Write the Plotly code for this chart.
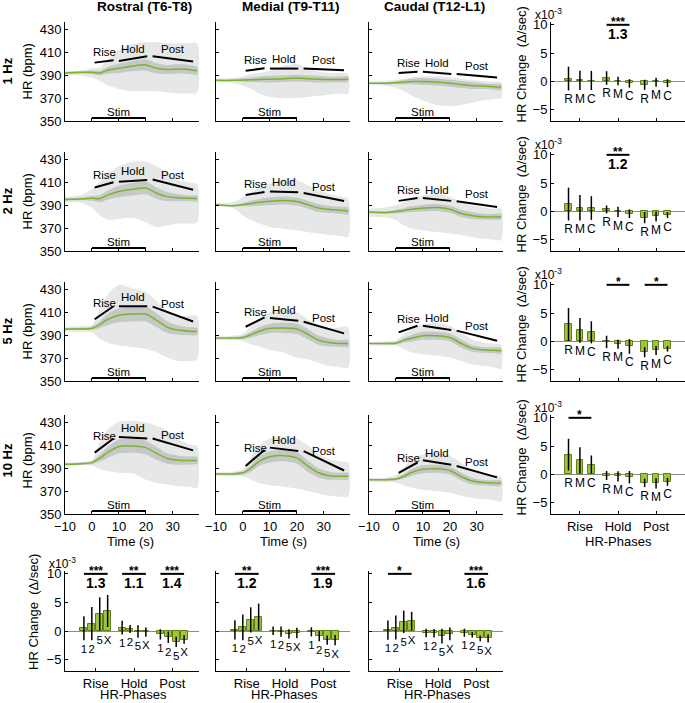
import plotly.graph_objects as go

W, H = 685, 703
FONT = "Liberation Sans, Arial, Helvetica, sans-serif"

regions = ["Rostral (T6-T8)", "Medial (T9-T11)", "Caudal (T12-L1)"]
freqs = ["1 Hz", "2 Hz", "5 Hz", "10 Hz"]
phases = ["Rise", "Hold", "Post"]
region_codes = ["R", "M", "C"]
freq_codes = ["1", "2", "5", "X"]

# time base of the HR traces (s)
t = [-10, -4, 0, 3, 6, 10, 15, 20, 24, 28, 32, 36, 39]
stim_window = (0, 20)
phase_windows = [(1, 8), (10, 20.5), (22.5, 37.5)]

# mean HR (bpm), per region: rostral, medial, caudal
hr_1hz = [[392, 392.5, 392.5, 392, 394.5, 396, 398, 399, 396, 395, 395.5, 395, 394],
          [385.5, 385.5, 385.8, 386, 386.3, 386.5, 387, 387.5, 387, 386.5, 386.3, 386.3, 386.5],
          [383, 383, 383.5, 384, 384.5, 384.5, 384, 383, 382, 381, 380.5, 380, 379.5]]
hr_2hz = [[395, 395.5, 396, 395.8, 399, 402, 404, 405, 400.5, 397.5, 396.5, 396, 395.8],
          [390.5, 389.5, 390.5, 391.5, 392.5, 393.5, 394.2, 393.2, 390.5, 387.5, 386.3, 385.7, 385],
          [384, 383.6, 384.5, 385.5, 386.5, 387.5, 388, 386.5, 383, 381, 380, 379.8, 380]]
hr_5hz = [[395.5, 395.5, 396, 399.5, 404, 407.5, 408.5, 408.5, 403, 397, 394.5, 393.5, 393.3],
          [387.5, 387.5, 388, 390.5, 393.5, 396, 396.3, 395.5, 391, 385.7, 383.7, 382.8, 382.8],
          [382.8, 382.8, 383, 385.7, 387.5, 389.5, 389.5, 388, 383, 378.7, 377.2, 376.9, 376.5]]
hr_10hz = [[393.4, 394, 394.9, 399, 404, 409, 409.5, 408, 403, 398.5, 397, 396.8, 396.8],
           [385, 385, 386, 390, 396, 400, 401, 399, 392, 386, 383.5, 383, 383],
           [380, 380, 380.5, 383, 386.5, 389, 389.5, 388, 383, 379, 377.5, 377, 377]]

# inner (dark grey) band half width
sem_1hz = [[0.8, 1, 1.5, 2, 3, 4, 4.5, 5, 4.5, 4, 4, 4, 3.5],
           [0.5, 0.8, 1.5, 2, 2.5, 3, 3, 3, 3, 3, 2.5, 2.5, 2.5],
           [0.5, 0.8, 1.3, 2, 2.5, 3, 3, 3, 3, 3, 2.5, 2.5, 2.5]]
sem_2hz = [[0.8, 1.2, 2, 3, 4, 5, 5.5, 5.5, 5, 4, 3, 2.5, 2.5],
           [0.5, 0.8, 1.5, 2.5, 3, 3.5, 3.5, 3.5, 3.5, 3.5, 3, 3, 3],
           [1, 1, 1.5, 2, 2.5, 3, 3, 3, 3, 3, 2.5, 2.5, 2.5]]
sem_5hz = [[0.8, 1, 1.5, 3, 5, 6, 6.5, 6.5, 6, 5, 4, 3.5, 3],
           [0.5, 0.8, 1.5, 2.5, 3.5, 4, 4.5, 4.5, 4.5, 4, 3.5, 3, 3],
           [0.5, 0.8, 1.2, 2, 3, 3.5, 3.5, 3.5, 3.5, 3, 2.5, 2.5, 2.5]]
sem_10hz = [[0.8, 1, 1.5, 3, 5, 6, 6, 6, 5.5, 4.5, 4, 3.5, 3],
            [0.5, 0.8, 1.5, 3, 4, 5, 5, 5, 5, 4, 3.5, 3, 3],
            [0.5, 0.8, 1.2, 2, 3, 3.5, 3.5, 3.5, 3.5, 3, 2.5, 2.5, 2.5]]

# outer (light grey) band, lower and upper edges
lo_1hz = [[390.5, 390, 388, 385, 381, 378, 376, 376, 376, 375, 374, 374, 375],
          [384, 383.5, 381, 378, 374, 371, 370, 370, 371, 372, 373, 374, 374],
          [381.5, 381, 379, 376, 372, 368, 364, 363, 364, 366, 368, 369, 370]]
hi_1hz = [[393.5, 394, 396, 397, 404, 412, 417, 419, 419, 418, 418, 418, 418],
          [387, 387.5, 389, 391, 392, 394, 398, 400, 396, 393, 392, 392, 391],
          [384.5, 385, 386, 387, 388, 389, 389, 388, 387, 386, 385, 384.5, 384]]
lo_2hz = [[393, 392, 388, 381, 377, 378, 379, 375, 371, 372, 374, 374, 375],
          [389, 388, 381, 377, 374, 371, 369.5, 368, 366.5, 365, 364, 363, 362.5],
          [380, 379.5, 377, 372, 369.5, 368, 366.7, 365.2, 364, 362.3, 361, 360, 359.5]]
hi_2hz = [[397, 399, 404, 411, 418, 424, 428, 428, 424, 418, 412, 410, 408],
          [392, 392.5, 397, 401, 405, 409, 413, 412, 407.5, 403, 400, 397.5, 396],
          [387, 388, 390, 393, 396, 398.7, 400, 397.3, 393.5, 390, 388.5, 387, 387]]
lo_5hz = [[393.5, 393, 392.5, 386.5, 383.5, 381, 379.5, 378, 375, 370.5, 367.5, 367.5, 369],
          [386, 385.5, 385, 382, 380, 377, 375, 370.5, 369, 366, 363, 362, 361.5],
          [381.5, 381, 381, 377.8, 375, 373.4, 372, 370.5, 367.6, 364.6, 363.2, 362.3, 360.5]]
hi_5hz = [[397.5, 398, 399, 414, 426, 434, 431, 427.5, 420, 411.5, 407, 407, 407],
          [389, 389.5, 391, 398, 404, 410, 413, 410, 404, 398.3, 395.5, 397, 397],
          [384, 384.5, 385.5, 391, 395.4, 399.8, 401, 398.3, 392.5, 386.6, 383.7, 382.8, 381.6]]
lo_10hz = [[392, 392.5, 392.5, 389, 387.5, 386, 385.5, 380, 377.3, 375.8, 374.3, 373.8, 373],
           [383.5, 383, 383, 380, 377, 375, 374, 372, 370, 368, 366, 365, 365],
           [378.5, 378, 377.5, 375, 373, 371, 370, 368.5, 366, 364, 363, 362, 361]]
hi_10hz = [[395, 395.5, 396.5, 414, 424, 430.5, 431.5, 430, 427, 422.7, 415.4, 411, 409.5],
           [386.5, 387, 389, 400, 410, 416, 418, 416, 410, 402, 398, 396, 395],
           [381.5, 382, 384, 391, 398, 402, 403, 401, 395, 389, 385, 384, 383]]

# fitted phase lines (start, end HR) for rise, hold, post
seg_1hz = [[(401, 403), (402.5, 406.5), (406.5, 402)],
           [(394, 396), (395.8, 395.8), (395.8, 394.3)],
           [(392, 393), (393, 391), (391, 388)]]
seg_2hz = [[(405.5, 410), (410.5, 412), (412.5, 403.5)],
           [(399, 401.5), (402, 401.3), (400.7, 393.7)],
           [(393.8, 396.4), (396.4, 393.8), (393.5, 388.5)]]
seg_5hz = [[(404, 415.3), (415.3, 415.3), (415, 402)],
           [(397.4, 405.6), (405, 402.7), (401.8, 391.6)],
           [(392.5, 398.3), (398.3, 394.5), (394, 385.2)]]
seg_10hz = [[(403.6, 416), (417.3, 416), (416, 405.6)],
            [(392, 406), (408, 405), (405, 388)],
            [(386, 395), (397, 393), (392, 382)]]

# HR change (x1e-3 /sec), rows: 1, 2, 5, 10 Hz; cols: R, M, C
rise_mean = [[0.5, 0.2, 0.15], [1.3, 0.65, 0.6], [3.0, 1.95, 1.6], [3.5, 2.5, 1.75]]
rise_err = [[2.1, 1.7, 1.7], [2.9, 2.25, 2.1], [2.9, 2.2, 1.95], [2.8, 2.3, 1.6]]
hold_mean = [[0.6, 0.05, -0.35], [0.35, -0.1, -0.4], [-0.1, -0.5, -0.9], [-0.2, -0.35, -0.5]]
hold_err = [[1.2, 0.75, 0.75], [0.7, 0.9, 0.75], [1.1, 0.8, 1.3], [0.8, 0.9, 1.1]]
post_mean = [[-0.6, -0.15, -0.3], [-1.1, -0.9, -0.65], [-1.9, -1.6, -1.3], [-1.5, -1.6, -1.3]]
post_err = [[0.9, 0.8, 0.7], [1.0, 0.9, 0.5], [0.9, 0.8, 0.5], [0.75, 0.9, 0.7]]

# significance: (phase number, stars, ratio)
sig_by_freq = [[(2, "***", "1.3")], [(2, "**", "1.2")], [(2, "*", ""), (3, "*", "")], [(1, "*", "")]]
sig_by_region = [[(1, "***", "1.3"), (2, "**", "1.1"), (3, "***", "1.4")],
                 [(1, "**", "1.2"), (3, "***", "1.9")],
                 [(1, "*", ""), (3, "***", "1.6")]]

hr_all = [hr_1hz, hr_2hz, hr_5hz, hr_10hz]
sem_all = [sem_1hz, sem_2hz, sem_5hz, sem_10hz]
lo_all = [lo_1hz, lo_2hz, lo_5hz, lo_10hz]
hi_all = [hi_1hz, hi_2hz, hi_5hz, hi_10hz]
seg_all = [seg_1hz, seg_2hz, seg_5hz, seg_10hz]
means = [rise_mean, hold_mean, post_mean]
errs = [rise_err, hold_err, post_err]

GREEN = "#79b52c"
BAR = "#a2c43c"
BAR_EDGE = "#5f7f19"
OUTER = "#e6e7e7"
INNER = "#c6c7c7"

col_x = [(65, 199), (216, 350), (369, 503)]
row_y = [(22, 121), (152, 251), (282, 381), (415, 514)]
bottom_y = (571, 671)
right_x = (551, 685)


def xd(a, b):
    return [a / W, min(b / W, 1)]


def yd(top, bottom):
    return [1 - bottom / H, 1 - top / H]


def base_axis(**kw):
    d = dict(showline=True, linecolor="black", linewidth=1, ticks="inside", ticklen=3,
             tickcolor="black", showgrid=False, zeroline=False, fixedrange=True, automargin=False,
             tickfont=dict(size=13, color="black", family=FONT))
    d.update(kw)
    return d


fig = go.Figure()
layout = {}
annotations = []
shapes = []
k = 0


def ann(text, x, y, xref="paper", yref="paper", size=13, angle=0, xanchor="center",
        yanchor="middle", **kw):
    annotations.append(dict(text=text, x=x, y=y, xref=xref, yref=yref, showarrow=False,
                            xanchor=xanchor, yanchor=yanchor, textangle=angle,
                            font=dict(size=size, color="black", family=FONT), **kw))


# ---------------- HR traces ----------------
for fi in range(4):
    for ri in range(3):
        k += 1
        xa, ya = "x%d" % k, "y%d" % k
        layout["xaxis%d" % k] = base_axis(domain=xd(*col_x[ri]), anchor=ya, range=[-10, 39.7],
                                          tickvals=[-10, 0, 10, 20, 30], showticklabels=(fi == 3))
        layout["yaxis%d" % k] = base_axis(domain=yd(*row_y[fi]), anchor=xa, range=[350, 436.5],
                                          tickvals=[350, 370, 390, 410, 430], showticklabels=(ri == 0))
        m = hr_all[fi][ri]
        s = sem_all[fi][ri]
        lo = lo_all[fi][ri]
        hi = hi_all[fi][ri]
        fig.add_trace(go.Scatter(x=t + t[::-1], y=hi + lo[::-1], fill="toself", fillcolor=OUTER,
                                 mode="lines", line=dict(width=0, shape="spline", smoothing=0.7),
                                 hoverinfo="skip", xaxis=xa, yaxis=ya))
        up = [a + b for a, b in zip(m, s)]
        dn = [a - b for a, b in zip(m, s)]
        fig.add_trace(go.Scatter(x=t + t[::-1], y=up + dn[::-1], fill="toself", fillcolor=INNER,
                                 mode="lines", line=dict(width=0, shape="spline", smoothing=0.7),
                                 hoverinfo="skip", xaxis=xa, yaxis=ya))
        fig.add_trace(go.Scatter(x=t, y=m, mode="lines",
                                 line=dict(color=GREEN, width=1.5, shape="spline", smoothing=0.7),
                                 xaxis=xa, yaxis=ya))
        for pi, (t0, t1) in enumerate(phase_windows):
            y0, y1 = seg_all[fi][ri][pi]
            fig.add_trace(go.Scatter(x=[t0, t1], y=[y0, y1], mode="lines",
                                     line=dict(color="black", width=2), xaxis=xa, yaxis=ya))
            ann(phases[pi], (t0 + t1) / 2, (y0 + y1) / 2 + 8.5, xref=xa, yref=ya, size=11.5)
        fig.add_trace(go.Scatter(x=list(stim_window), y=[352.6, 352.6], mode="lines",
                                 line=dict(color="black", width=2), xaxis=xa, yaxis=ya))
        ann("Stim", sum(stim_window) / 2, 357.8, xref=xa, yref=ya, size=11.5)


def sig_marks(xa, ya, centre, half, stars, ratio):
    shapes.append(dict(type="line", xref=xa, yref=ya, x0=centre - half, x1=centre + half,
                       y0=10, y1=10, line=dict(color="black", width=2)))
    ann("<b>%s</b>" % stars, centre, 10, xref=xa, yref=ya, size=12, yanchor="bottom", yshift=-6)
    if ratio:
        ann("<b>%s</b>" % ratio, centre, 10, xref=xa, yref=ya, size=14, yanchor="top", yshift=1)


def bar_axes(k, xdom, ydom, rng, show_x, show_y):
    xa, ya = "x%d" % k, "y%d" % k
    layout["xaxis%d" % k] = base_axis(domain=xdom, anchor=ya, range=rng, tickvals=[1, 2, 3],
                                      ticktext=phases, showticklabels=show_x)
    layout["yaxis%d" % k] = base_axis(domain=ydom, anchor=xa, range=[-7, 10.5],
                                      tickvals=[-5, 0, 5, 10], showticklabels=show_y,
                                      zeroline=True, zerolinecolor="#8c8c8c", zerolinewidth=1)
    return xa, ya


def draw_bars(xa, ya, xs, ys, es, codes, size):
    fig.add_trace(go.Bar(x=xs, y=ys, width=0.18, xaxis=xa, yaxis=ya,
                         marker=dict(color=BAR, line=dict(color=BAR_EDGE, width=1)),
                         error_y=dict(type="data", array=es, visible=True, width=0,
                                      thickness=1.5, color="black")))
    ly = [min(0, v - e) - 1.7 for v, e in zip(ys, es)]
    fig.add_trace(go.Scatter(x=xs, y=ly, mode="text", text=codes, xaxis=xa, yaxis=ya,
                             textfont=dict(size=size, color="black", family=FONT)))


# ---------------- per-frequency bars (right column) ----------------
for fi in range(4):
    k += 1
    xa, ya = bar_axes(k, xd(*right_x), yd(*row_y[fi]), [0.24, 3.76], fi == 3, True)
    xs, ys, es, codes = [], [], [], []
    for pi in range(3):
        for ri in range(3):
            xs.append(pi + 1 + (ri - 1) * 0.3)
            ys.append(means[pi][fi][ri])
            es.append(errs[pi][fi][ri])
            codes.append(region_codes[ri])
    draw_bars(xa, ya, xs, ys, es, codes, 12)
    for pn, stars, ratio in sig_by_freq[fi]:
        sig_marks(xa, ya, pn, 0.3, stars, ratio)
    top = row_y[fi][0]
    ann("x10<sup>-3</sup>", 533 / W, 1 - (top - 8) / H, size=12, xanchor="left")
    ann("HR Change\u00a0 (\u0394/sec)", 521 / W, 1 - ((row_y[fi][0] + row_y[fi][1]) / 2 - 7) / H,
        angle=-90)
    if fi == 3:
        ann("HR-Phases", (right_x[0] + 67) / W, 1 - 541 / H)

# ---------------- per-region bars (bottom row) ----------------
for ri in range(3):
    k += 1
    xa, ya = bar_axes(k, xd(*col_x[ri]), yd(*bottom_y), [0.195, 3.70], True, ri == 0)
    xs, ys, es, codes = [], [], [], []
    for pi in range(3):
        for fi in range(4):
            xs.append(pi + 1 + (fi - 1.5) * 0.207)
            ys.append(means[pi][fi][ri])
            es.append(errs[pi][fi][ri])
            codes.append(freq_codes[fi])
    draw_bars(xa, ya, xs, ys, es, codes, 11.5)
    for pn, stars, ratio in sig_by_region[ri]:
        sig_marks(xa, ya, pn, 0.31, stars, ratio)
    ann("HR-Phases", (col_x[ri][0] + 68) / W, 1 - 694 / H)

ann("x10<sup>-3</sup>", 47 / W, 1 - 563 / H, size=12, xanchor="left")
ann("HR Change\u00a0 (\u0394/sec)", 33 / W, 1 - 612 / H, angle=-90)

# ---------------- titles and row labels ----------------
for ri, cx in enumerate([144, 291, 434]):
    ann("<b>%s</b>" % regions[ri], cx / W, 1 - 7 / H, size=13.5)
for fi in range(4):
    cy = (row_y[fi][0] + row_y[fi][1]) / 2 - (4 if fi == 3 else 0)
    ann("<b>%s</b>" % freqs[fi], 7 / W, 1 - cy / H, angle=-90)
    ann("HR (bpm)", 27 / W, 1 - cy / H, angle=-90)
ann("Time (s)", 130 / W, 1 - 541 / H)
ann("Time (s)", 283 / W, 1 - 541 / H)
ann("Time (s)", 436 / W, 1 - 541 / H)

fig.update_layout(width=W, height=H, margin=dict(l=0, r=0, t=0, b=0), showlegend=False,
                  paper_bgcolor="white", plot_bgcolor="white", bargap=0,
                  font=dict(family=FONT, color="black"), annotations=annotations, shapes=shapes,
                  **layout)
fig.write_html("out.html", config={"displayModeBar": False},
               post_script="document.body.style.margin='0';")
